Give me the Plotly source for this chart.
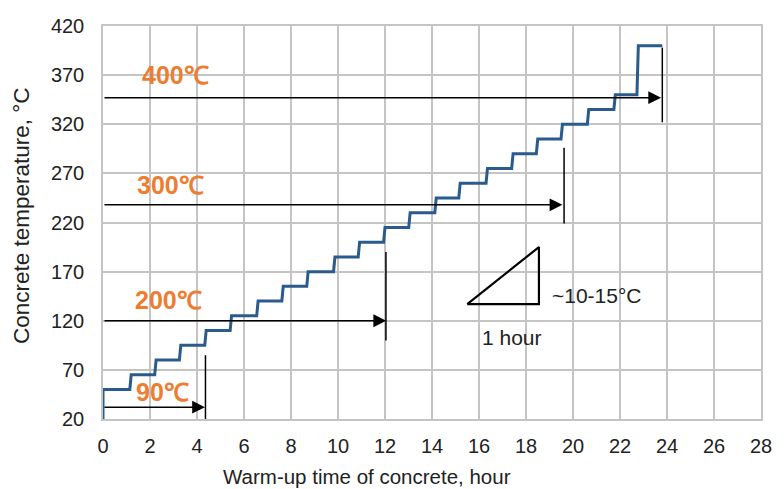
import plotly.graph_objects as go

# ---- data ----
riser_times = [0, 1.17, 2.23, 3.28, 4.36, 5.44, 6.57, 7.64, 8.70, 9.84, 10.89,
               11.97, 13.04, 14.15, 15.17, 16.33, 17.42, 18.47, 19.52, 20.64,
               21.77, 22.75]
levels = [50, 65, 80, 95, 110, 125, 140, 155, 170, 185, 200, 215, 230, 245,
          260, 275, 290, 305, 320, 335, 350, 400]
start_temp = 20
end_time = 23.8

target_labels = ["90℃", "200℃", "300℃", "400℃"]
label_x = [2.55, 2.78, 2.86, 3.07]
label_y = [47, 141, 258, 370]
arrow_y = [32, 120, 238, 347]
arrow_end = [4.34, 12.05, 19.55, 23.75]
marker_x = [4.36, 12.04, 19.62, 23.8]
marker_low = [20, 100, 219, 322]
marker_high = [85, 190, 296, 398]

tri_x = [15.5, 18.55, 18.55, 15.5]
tri_y = [137, 137, 195, 137]

x_ticks = list(range(0, 29, 2))
y_ticks = list(range(20, 421, 50))

# ---- build step path ----
xs, ys = [], []
prev = start_temp
for t, lv in zip(riser_times, levels):
    half = 0.03 if t > 0 else 0.0
    xs += [t - half, t + half]
    ys += [prev, lv]
    prev = lv
xs.append(end_time)
ys.append(prev)

fig = go.Figure()

# vertical marker lines
vx, vy = [], []
for mx, lo, hi in zip(marker_x, marker_low, marker_high):
    vx += [mx, mx, None]
    vy += [lo, hi, None]
fig.add_trace(go.Scatter(x=vx, y=vy, mode="lines",
                         line=dict(color="black", width=1.5),
                         hoverinfo="skip", showlegend=False))

# triangle
fig.add_trace(go.Scatter(x=tri_x, y=tri_y, mode="lines",
                         line=dict(color="black", width=2.2),
                         hoverinfo="skip", showlegend=False))

# step curve
fig.add_trace(go.Scatter(x=xs, y=ys, mode="lines",
                         line=dict(color="#2B5B8C", width=3),
                         showlegend=False))

# arrows
for ay_, ae in zip(arrow_y, arrow_end):
    fig.add_annotation(x=ae, y=ay_, ax=0, ay=ay_, xref="x", yref="y",
                       axref="x", ayref="y", text="", showarrow=True,
                       arrowhead=2, arrowsize=1.6, arrowwidth=1.6,
                       arrowcolor="black")

# orange labels
for txt, lx, ly in zip(target_labels, label_x, label_y):
    fig.add_annotation(x=lx, y=ly, xref="x", yref="y", text=txt,
                       showarrow=False,
                       font=dict(family="Liberation Sans Narrow, Arial Narrow, sans-serif",
                                 size=25, color="#ED7D31", weight="bold"))

txt_font = dict(family="Liberation Sans, Arial, sans-serif", size=21,
                color="#222222")
fig.add_annotation(x=19.03, y=146, xref="x", yref="y", text="~10-15°C",
                   showarrow=False, xanchor="left", font=txt_font)
fig.add_annotation(x=17.41, y=103, xref="x", yref="y", text="1 hour",
                   showarrow=False, font=txt_font)

# axis titles as positioned annotations
fig.add_annotation(x=0.4015, y=0, xref="paper", yref="paper",
                   text="Warm-up time of concrete, hour", showarrow=False,
                   yanchor="middle", yshift=-57,
                   font=dict(family="Liberation Sans, Arial, sans-serif",
                             size=20.5, color="#222222"))
fig.add_annotation(x=0, y=0.5165, xref="paper", yref="paper",
                   text="Concrete temperature, °C", showarrow=False,
                   textangle=-90, xanchor="center", yanchor="middle",
                   xshift=-82,
                   font=dict(family="Liberation Sans, Arial, sans-serif",
                             size=22.5, color="#222222"))

axis_font = dict(family="Liberation Sans, Arial, sans-serif", size=20,
                 color="#222222")
fig.update_xaxes(range=[0, 28], tickvals=x_ticks, showgrid=True,
                 gridcolor="#C4C4C4", gridwidth=1.5, zeroline=False,
                 showline=True, linecolor="#C4C4C4", linewidth=1.5,
                 mirror=True, ticks="", tickfont=axis_font,
                 ticklabelstandoff=8)
fig.update_yaxes(range=[20, 420], tickvals=y_ticks, showgrid=True,
                 gridcolor="#C4C4C4", gridwidth=1.5, zeroline=False,
                 showline=True, linecolor="#C4C4C4", linewidth=1.5,
                 mirror=True, ticks="", tickfont=axis_font,
                 ticklabelstandoff=13)

fig.update_layout(width=784, height=489, plot_bgcolor="white",
                  paper_bgcolor="white",
                  margin=dict(l=103, r=16, t=26, b=70),
                  showlegend=False)

fig.write_html("out.html")
